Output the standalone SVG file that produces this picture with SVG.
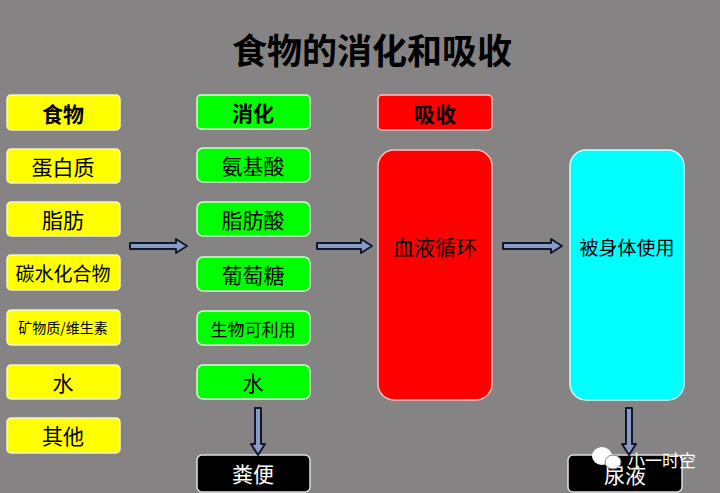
<svg xmlns="http://www.w3.org/2000/svg" width="720" height="493" viewBox="0 0 720 493">
<style>
text{font-family:"Noto Sans CJK SC",sans-serif;text-anchor:middle;dominant-baseline:central}
.y{fill:#ffff00;stroke:#f4f4c8;stroke-width:1.5}
.g{fill:#00ff00;stroke:#d0ffd0;stroke-width:1.5}
.r{fill:#ff0000;stroke:#ffc0c0;stroke-width:1.5}
.c{fill:#00ffff;stroke:#d0ffff;stroke-width:1.5}
.k{fill:#000;stroke:#e0e0e0;stroke-width:1.5}
.t{font-size:21px;fill:#000}
.b{font-weight:bold}
.w{fill:#fff;font-size:21px}
.ar{fill:#8a9ac0;stroke:#101830;stroke-width:2;stroke-linejoin:round}
</style>
<rect width="720" height="493" fill="#858384"/>
<text x="372" y="48" font-size="35" font-weight="bold" fill="#000">食物的消化和吸收</text>
<g id="n-food"><rect class="y" x="7" y="95" width="113" height="35" rx="4"/><text class="t b" x="63" y="113">食物</text></g>
<g id="n-protein"><rect class="y" x="7" y="149" width="113" height="34" rx="4"/><text class="t" x="63" y="166">蛋白质</text></g>
<g id="n-fat"><rect class="y" x="7" y="202" width="113" height="34" rx="4"/><text class="t" x="63" y="219">脂肪</text></g>
<g id="n-carb"><rect class="y" x="7" y="255" width="113" height="35" rx="4"/><text class="t" x="63" y="272" style="font-size:19px">碳水化合物</text></g>
<g id="n-mineral"><rect class="y" x="7" y="310" width="113" height="35" rx="4"/><text class="t" x="63" y="327" style="font-size:14px">矿物质/维生素</text></g>
<g id="n-water1"><rect class="y" x="7" y="365" width="113" height="34" rx="4"/><text class="t" x="63" y="382">水</text></g>
<g id="n-other"><rect class="y" x="7" y="418" width="113" height="35" rx="4"/><text class="t" x="63" y="435">其他</text></g>
<g id="n-digest"><rect class="g" x="197" y="95" width="113" height="34" rx="4"/><text class="t b" x="253" y="112">消化</text></g>
<g id="n-amino"><rect class="g" x="197" y="148" width="113" height="34" rx="6"/><text class="t" x="253" y="165">氨基酸</text></g>
<g id="n-fattyacid"><rect class="g" x="197" y="202" width="113" height="34" rx="6"/><text class="t" x="253" y="219">脂肪酸</text></g>
<g id="n-glucose"><rect class="g" x="197" y="257" width="113" height="34" rx="6"/><text class="t" x="253" y="274">葡萄糖</text></g>
<g id="n-bio"><rect class="g" x="197" y="311" width="113" height="34" rx="6"/><text class="t" x="253" y="328" style="font-size:17px">生物可利用</text></g>
<g id="n-water2"><rect class="g" x="197" y="365" width="113" height="34" rx="6"/><text class="t" x="253" y="382">水</text></g>
<g id="n-absorb"><rect class="r" x="378" y="95" width="114" height="35" rx="4"/><text class="t b" x="435" y="113">吸收</text></g>
<g id="n-blood"><rect class="r" x="378" y="150" width="114" height="250" rx="16"/><text class="t" x="435" y="246">血液循环</text></g>
<g id="n-use"><rect class="c" x="570" y="150" width="114" height="250" rx="16"/><text class="t" x="627" y="246" style="font-size:19px">被身体使用</text></g>
<g id="n-feces"><rect class="k" x="197" y="455" width="113" height="37" rx="5"/><text class="w" x="253" y="473">粪便</text></g>
<g id="n-urine"><rect class="k" x="568" y="455" width="114" height="37" rx="5"/><text class="w" x="625" y="474">尿液</text></g>
<g id="connectors">
<polygon class="ar" points="130,243 176,243 176,239 187,246 176,253 176,249 130,249"/>
<polygon class="ar" points="317,243 361,243 361,239 372,246 361,253 361,249 317,249"/>
<polygon class="ar" points="503,243 551,243 551,239 562,246 551,253 551,249 503,249"/>
<polygon class="ar" points="255,408 261,408 261,444 265,444 258,455 251,444 255,444"/>
<polygon class="ar" points="626,408 632,408 632,444 636,444 629,455 622,444 626,444"/>
</g>
<g id="watermark">
<ellipse cx="602" cy="456" rx="10" ry="9" fill="#fff"/>
<ellipse cx="613" cy="462" rx="8" ry="7" fill="#fff" stroke="#858384"/>
<text x="662" y="459" style="font-size:17px" fill="#fff">小一时空</text>
</g>
</svg>
